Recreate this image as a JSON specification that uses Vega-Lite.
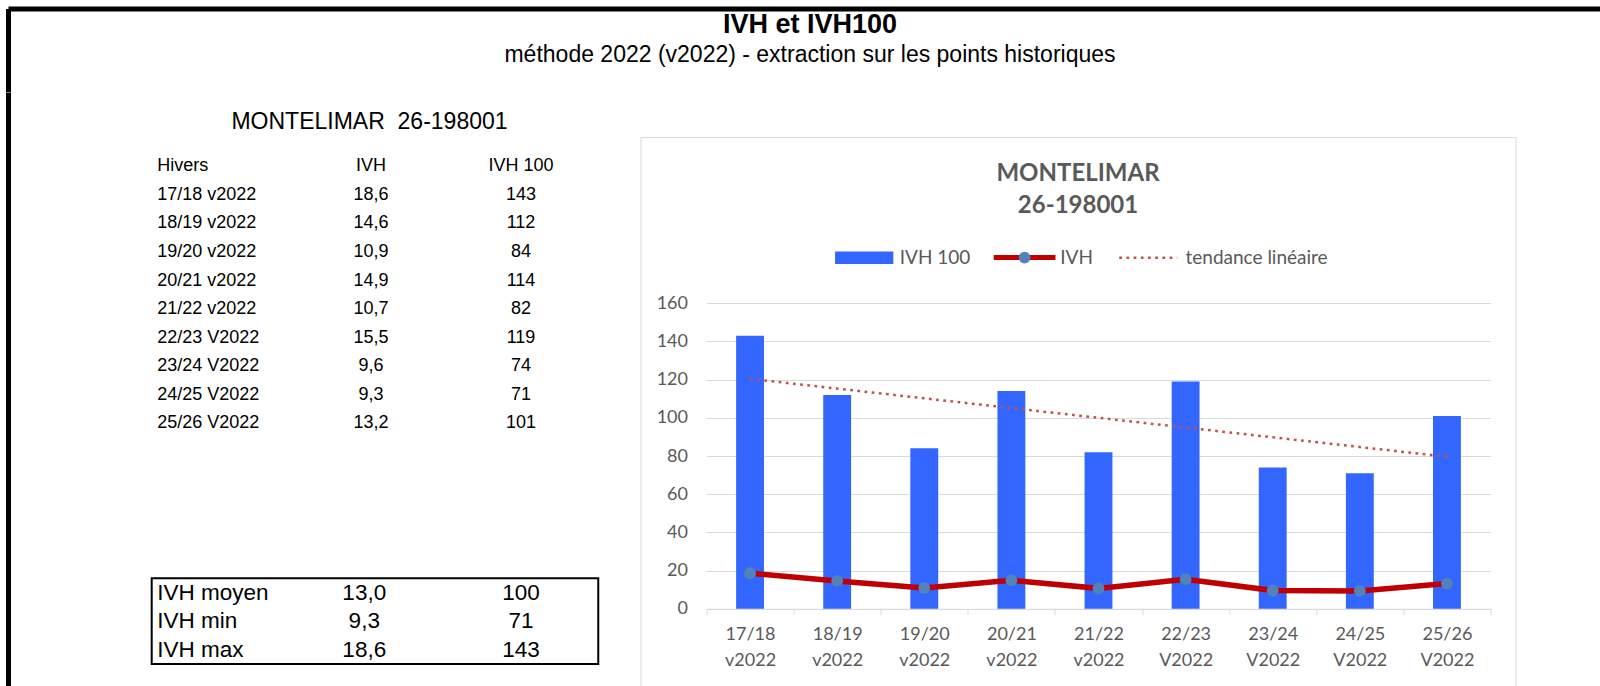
{
  "$schema": "https://vega.github.io/schema/vega-lite/v6.json",
  "autosize": {"type": "pad"},
  "padding": {"left": 5.5, "top": 6, "right": 0, "bottom": 0},
  "background": "white",
  "config": {
    "locale": {"number": {"decimal": ",", "thousands": " ", "grouping": [3], "currency": ["", " €"]}},
    "view": {"stroke": null}
  },
  "datasets": {
    "hivers": [
      {"hiver": "17/18 v2022", "ivh": 18.6, "ivh100": 143},
      {"hiver": "18/19 v2022", "ivh": 14.6, "ivh100": 112},
      {"hiver": "19/20 v2022", "ivh": 10.9, "ivh100": 84},
      {"hiver": "20/21 v2022", "ivh": 14.9, "ivh100": 114},
      {"hiver": "21/22 v2022", "ivh": 10.7, "ivh100": 82},
      {"hiver": "22/23 V2022", "ivh": 15.5, "ivh100": 119},
      {"hiver": "23/24 V2022", "ivh": 9.6, "ivh100": 74},
      {"hiver": "24/25 V2022", "ivh": 9.3, "ivh100": 71},
      {"hiver": "25/26 V2022", "ivh": 13.2, "ivh100": 101}
    ],
    "stats": [
      {"stat": "IVH moyen", "ivh": 13.0, "ivh100": 100},
      {"stat": "IVH min", "ivh": 9.3, "ivh100": 71},
      {"stat": "IVH max", "ivh": 18.6, "ivh100": 143}
    ],
    "tendance": [
      {"hiver": "17/18 v2022", "tendance": 120.4},
      {"hiver": "25/26 V2022", "tendance": 79.6}
    ]
  },
  "spacing": 0,
  "bounds": "flush",
  "vconcat": [
    {
      "width": 1603,
      "height": 83.6,
      "view": {"stroke": "black", "strokeWidth": 5, "strokeDash": [1686.6, 1603, 83.6]},
      "data": {"values": [
        {"ligne": "titre", "texte": "IVH et IVH100"},
        {"ligne": "sous-titre", "texte": "méthode 2022 (v2022) - extraction sur les points historiques"}
      ]},
      "layer": [
        {
          "transform": [{"filter": "datum.ligne === 'titre'"}],
          "mark": {"type": "text", "font": "Liberation Sans", "fontSize": 27, "fontWeight": "bold", "color": "black", "dy": 2},
          "encoding": {
            "y": {"field": "ligne", "type": "nominal", "scale": {"type": "band", "domain": ["titre", "sous-titre", "vide"], "paddingInner": 0, "paddingOuter": 0}, "axis": null},
            "text": {"field": "texte"}
          }
        },
        {
          "transform": [{"filter": "datum.ligne === 'sous-titre'"}],
          "mark": {"type": "text", "font": "Liberation Sans", "fontSize": 23, "color": "black", "dy": 4},
          "encoding": {
            "y": {"field": "ligne", "type": "nominal", "axis": null},
            "text": {"field": "texte"}
          }
        }
      ]
    },
    {
      "spacing": 0,
      "bounds": "flush",
      "hconcat": [
        {
          "width": 631.5,
          "height": 599.55,
          "view": {"stroke": "black", "strokeWidth": 5, "strokeDash": [599.55, 1862.55], "strokeDashOffset": 599.55},
          "layer": [
            {
              "data": {"values": [{"texte": "MONTELIMAR \u00a026-198001"}]},
              "mark": {"type": "text", "font": "Liberation Sans", "fontSize": 23, "color": "black", "dy": -14},
              "encoding": {
                "x": {"datum": "IVH", "bandPosition": 0.49, "scale": {"type": "band", "domain": ["Hivers", "IVH", "IVH 100"], "paddingInner": 0, "paddingOuter": 0.605, "align": 0.7576}, "axis": null},
                "y": {"datum": "titre", "scale": {"type": "band", "domain": ["f0", "titre", "Hivers", "17/18 v2022", "18/19 v2022", "19/20 v2022", "20/21 v2022", "21/22 v2022", "22/23 V2022", "23/24 V2022", "24/25 V2022", "25/26 V2022", "f1", "f2", "f3", "f4", "f5", "IVH moyen", "IVH min", "IVH max", "fin"], "paddingInner": 0, "paddingOuter": 0}, "axis": null},
                "text": {"field": "texte"}
              }
            },
            {
              "data": {"values": [{"texte": "Hivers"}]},
              "mark": {"type": "text", "font": "Liberation Sans", "fontSize": 18, "color": "black", "align": "left", "dy": 2},
              "encoding": {
                "x": {"datum": "Hivers", "bandPosition": 0.075, "axis": null},
                "y": {"datum": "Hivers", "axis": null},
                "text": {"field": "texte"}
              }
            },
            {
              "data": {"values": [{"colonne": "IVH"}, {"colonne": "IVH 100"}]},
              "mark": {"type": "text", "font": "Liberation Sans", "fontSize": 18, "color": "black", "dy": 2},
              "encoding": {
                "x": {"field": "colonne", "type": "nominal", "axis": null},
                "y": {"datum": "Hivers", "axis": null},
                "text": {"field": "colonne"}
              }
            },
            {
              "data": {"name": "hivers"},
              "mark": {"type": "text", "font": "Liberation Sans", "fontSize": 18, "color": "black", "align": "left", "dy": 2},
              "encoding": {
                "x": {"datum": "Hivers", "bandPosition": 0.075, "axis": null},
                "y": {"field": "hiver", "type": "nominal", "axis": null},
                "text": {"field": "hiver"}
              }
            },
            {
              "data": {"name": "hivers"},
              "mark": {"type": "text", "font": "Liberation Sans", "fontSize": 18, "color": "black", "dy": 2},
              "encoding": {
                "x": {"datum": "IVH", "axis": null},
                "y": {"field": "hiver", "type": "nominal", "axis": null},
                "text": {"field": "ivh", "type": "quantitative", "format": ".1f"}
              }
            },
            {
              "data": {"name": "hivers"},
              "mark": {"type": "text", "font": "Liberation Sans", "fontSize": 18, "color": "black", "dy": 2},
              "encoding": {
                "x": {"datum": "IVH 100", "axis": null},
                "y": {"field": "hiver", "type": "nominal", "axis": null},
                "text": {"field": "ivh100", "type": "quantitative", "format": "d"}
              }
            },
            {
              "data": {"name": "stats"},
              "mark": {"type": "text", "font": "Liberation Sans", "fontSize": 22.5, "color": "black", "align": "left"},
              "encoding": {
                "x": {"datum": "Hivers", "bandPosition": 0.075, "axis": null},
                "y": {"field": "stat", "type": "nominal", "axis": null},
                "text": {"field": "stat"}
              }
            },
            {
              "data": {"name": "stats"},
              "mark": {"type": "text", "font": "Liberation Sans", "fontSize": 22.5, "color": "black"},
              "encoding": {
                "x": {"datum": "IVH", "bandPosition": 0.455, "axis": null},
                "y": {"field": "stat", "type": "nominal", "axis": null},
                "text": {"field": "ivh", "type": "quantitative", "format": ".1f"}
              }
            },
            {
              "data": {"name": "stats"},
              "mark": {"type": "text", "font": "Liberation Sans", "fontSize": 22.5, "color": "black"},
              "encoding": {
                "x": {"datum": "IVH 100", "axis": null},
                "y": {"field": "stat", "type": "nominal", "axis": null},
                "text": {"field": "ivh100", "type": "quantitative", "format": "d"}
              }
            },
            {
              "data": {"values": [{"cadre": "statistiques"}]},
              "mark": {"type": "rect", "filled": false, "color": "black", "strokeWidth": 2},
              "encoding": {
                "x": {"datum": "Hivers", "bandPosition": 0.038, "axis": null},
                "x2": {"datum": "IVH 100", "bandPosition": 1.015},
                "y": {"datum": "IVH moyen", "bandPosition": 0, "axis": null},
                "y2": {"datum": "IVH max", "bandPosition": 1}
              }
            }
          ]
        },
        {
          "spacing": 0,
          "bounds": "flush",
          "vconcat": [
            {
              "width": 875,
              "height": 43.4,
              "data": {"values": []},
              "mark": "text"
            },
            {
              "width": 875,
              "height": 575.5,
              "view": {"stroke": "#d9d9d9", "strokeWidth": 1},
              "title": {"text": ["MONTELIMAR", "26-198001"], "anchor": "middle", "frame": "group", "offset": -81, "font": "Lato", "fontSize": 24, "fontWeight": "bold", "color": "#595959", "lineHeight": 32.5},
              "layer": [
                {
                  "data": {"name": "hivers"},
                  "mark": {"type": "bar", "width": {"band": 0.32}},
                  "encoding": {
                    "x": {"field": "hiver", "type": "nominal", "sort": null, "title": null,
                      "scale": {"type": "band", "domain": ["17/18 v2022", "18/19 v2022", "19/20 v2022", "20/21 v2022", "21/22 v2022", "22/23 V2022", "23/24 V2022", "24/25 V2022", "25/26 V2022"], "range": [66, 850], "paddingInner": 0, "paddingOuter": 0},
                      "axis": {"orient": "bottom", "offset": -103.7, "tickBand": "extent", "grid": false, "domainColor": "#d9d9d9", "tickColor": "#d9d9d9", "tickSize": 6, "labelAngle": 0, "labelExpr": "split(datum.label, ' ')", "labelFont": "Lato", "labelFontSize": 18, "labelColor": "#595959", "labelLineHeight": 26, "labelPadding": 11}},
                    "y": {"field": "ivh100", "type": "quantitative", "title": null,
                      "scale": {"domain": [0, 160], "range": [471.8, 166.2], "nice": false, "zero": false},
                      "axis": {"offset": -66, "values": [0, 20, 40, 60, 80, 100, 120, 140, 160], "ticks": false, "domain": false, "grid": true, "gridColor": "#d9d9d9", "gridWidth": 1, "labelFont": "Lato", "labelFontSize": 18, "labelColor": "#595959", "labelPadding": 19}},
                    "fill": {"datum": "IVH 100", "scale": {"range": ["#3366ff"]},
                      "legend": {"orient": "none", "legendX": 826.2, "legendY": 219.35, "title": null, "padding": 0, "symbolType": "M-1,-0.214H1V0.214H-1Z", "symbolSize": 3399, "symbolStrokeWidth": 0, "labelFont": "Lato", "labelFontSize": 19, "labelColor": "#595959", "labelOffset": 6}}
                  }
                },
                {
                  "data": {"name": "hivers"},
                  "mark": {"type": "line", "strokeWidth": 5.5},
                  "encoding": {
                    "x": {"field": "hiver", "type": "nominal", "sort": null, "title": null},
                    "y": {"field": "ivh", "type": "quantitative", "title": null},
                    "stroke": {"datum": "IVH", "scale": {"range": ["#c00000"]},
                      "legend": {"orient": "none", "legendX": 982.6, "legendY": 215.1, "title": null, "padding": 0, "symbolType": "M-1,0H1", "symbolSize": 3819, "symbolStrokeWidth": 5, "symbolStrokeColor": "#c00000", "labelFont": "Lato", "labelFontSize": 19, "labelColor": "#595959", "labelOffset": 2.1}}
                  }
                },
                {
                  "data": {"name": "hivers"},
                  "mark": {"type": "point", "filled": true, "size": 140, "color": "#5381b9", "opacity": 1},
                  "encoding": {
                    "x": {"field": "hiver", "type": "nominal", "sort": null, "title": null},
                    "y": {"field": "ivh", "type": "quantitative", "title": null},
                    "shape": {"datum": "marqueur IVH", "scale": {"range": ["circle"]},
                      "legend": {"orient": "none", "legendX": 1010.1, "legendY": 242.6, "title": null, "padding": 0, "symbolSize": 140, "symbolFillColor": "#5381b9", "symbolStrokeWidth": 0, "labelExpr": "''", "zindex": 2}}
                  }
                },
                {
                  "data": {"name": "tendance"},
                  "mark": {"type": "line", "strokeWidth": 2.5, "color": "#c0504d"},
                  "encoding": {
                    "x": {"field": "hiver", "type": "nominal", "sort": null, "title": null},
                    "y": {"field": "tendance", "type": "quantitative", "title": null},
                    "strokeDash": {"datum": "tendance linéaire", "scale": {"range": [[2.7, 4.5]]},
                      "legend": {"orient": "none", "legendX": 1109.25, "legendY": 218.25, "title": null, "padding": 0, "symbolType": "M-1,0H1", "symbolSize": 3364, "symbolStrokeWidth": 2.5, "symbolStrokeColor": "#c0504d", "labelFont": "Lato", "labelFontSize": 19, "labelColor": "#595959", "labelOffset": 6.75}}
                  }
                }
              ]
            }
          ]
        }
      ]
    }
  ]
}
